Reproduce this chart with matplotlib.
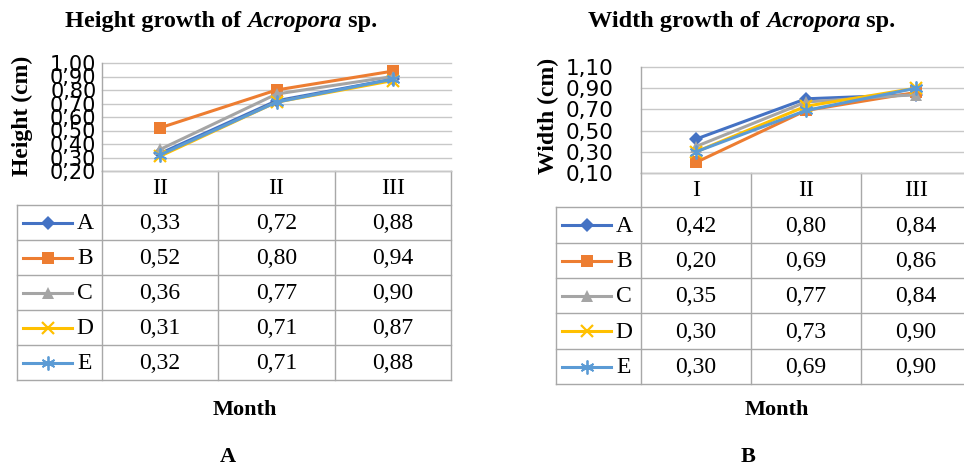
import matplotlib
matplotlib.use("Agg")
import matplotlib.pyplot as plt
from matplotlib.ticker import FuncFormatter

# ---- data ----
series_names = ["A", "B", "C", "D", "E"]
height_months = ["II", "II", "III"]
height_values = {
    "A": [0.33, 0.72, 0.88],
    "B": [0.52, 0.80, 0.94],
    "C": [0.36, 0.77, 0.90],
    "D": [0.31, 0.71, 0.87],
    "E": [0.32, 0.71, 0.88],
}
width_months = ["I", "II", "III"]
width_values = {
    "A": [0.42, 0.80, 0.84],
    "B": [0.20, 0.69, 0.86],
    "C": [0.35, 0.77, 0.84],
    "D": [0.30, 0.73, 0.90],
    "E": [0.30, 0.69, 0.90],
}
height_ticks = [0.2, 0.3, 0.4, 0.5, 0.6, 0.7, 0.8, 0.9, 1.0]
width_ticks = [0.1, 0.3, 0.5, 0.7, 0.9, 1.1]

# ---- styles ----
colors = {"A": "#4472C4", "B": "#ED7D31", "C": "#A5A5A5", "D": "#FFC000", "E": "#5B9BD5"}
markers = {
    "A": dict(marker="D", ms=7, mew=0),
    "B": dict(marker="s", ms=9, mew=0),
    "C": dict(marker="^", ms=9, mew=0),
    "D": dict(marker="x", ms=9, mew=1.6),
    "E": dict(marker=(6, 2, 0), ms=10, mew=1.3),
}
SERIF = "Liberation Serif"
SANS = "DejaVu Sans"
GRID = "#c8c8c8"
TBL = "#a8a8a8"
CELL_SIZE = 17

W, H = 964, 468
fig = plt.figure(figsize=(W / 100, H / 100), dpi=100)

# overlay in pixel coordinates for the data tables and captions
ov = fig.add_axes([0, 0, 1, 1], zorder=0)
ov.set_xlim(0, W)
ov.set_ylim(H, 0)
ov.set_axis_off()


def px_axes(x0, y0, x1, y1):
    return fig.add_axes([x0 / W, 1 - y1 / H, (x1 - x0) / W, (y1 - y0) / H], zorder=2)


comma = FuncFormatter(lambda v, p: f"{v:.2f}".replace(".", ","))


def panel(x0, y0, x1, y1, ticks, months, values, ylim, tick_size, tick_pad,
          leg_left, row_edges, table_right):
    ax = px_axes(x0, y0, x1, y1)
    ax.patch.set_alpha(0)
    for s in ["top", "right", "bottom"]:
        ax.spines[s].set_visible(False)
    ax.spines["left"].set_color(TBL)
    ax.spines["left"].set_linewidth(1.0)
    ax.set_xlim(-0.5, len(months) - 0.5)
    ax.set_ylim(*ylim)
    ax.set_yticks(ticks)
    ax.yaxis.set_major_formatter(comma)
    ax.set_xticks([])
    ax.tick_params(axis="y", length=0, pad=tick_pad, labelsize=tick_size)
    for lab in ax.get_yticklabels():
        lab.set_fontfamily(SANS)
    for t in ticks:
        ax.axhline(t, color=GRID, lw=1.0, zorder=0, clip_on=False)
    xs = list(range(len(months)))
    for name in series_names:
        ax.plot(xs, values[name], color=colors[name], lw=2.2,
                markerfacecolor=colors[name], markeredgecolor=colors[name],
                clip_on=False, zorder=3, **markers[name])

    # data table laid out on the same column grid as the axes
    colw = (x1 - x0) / len(months)
    col_edges = [x0 + i * colw for i in range(len(months) + 1)]
    right = min(table_right, W)
    ov.plot([x0, right], [row_edges[0], row_edges[0]], color=TBL, lw=1.0)
    for yy in row_edges[1:]:
        ov.plot([leg_left, right], [yy, yy], color=TBL, lw=1.0)
    ov.plot([leg_left, leg_left], [row_edges[1], row_edges[-1]], color=TBL, lw=1.0)
    for cx in col_edges[:-1]:
        ov.plot([cx, cx], [row_edges[0], row_edges[-1]], color=TBL, lw=1.0)
    if table_right <= W:
        ov.plot([table_right, table_right], [row_edges[0], row_edges[-1]], color=TBL, lw=1.0)
    hy = (row_edges[0] + row_edges[1]) / 2
    for i, m in enumerate(months):
        ov.text((col_edges[i] + col_edges[i + 1]) / 2, hy, m, ha="center", va="center",
                fontsize=CELL_SIZE, family=SERIF)
    for r, name in enumerate(series_names):
        cy = (row_edges[r + 1] + row_edges[r + 2]) / 2
        kx0, kx1 = leg_left + 6, x0 - 30
        ov.plot([kx0, kx1], [cy, cy], color=colors[name], lw=2.2)
        ov.plot([(kx0 + kx1) / 2], [cy], color=colors[name], ls="none",
                markerfacecolor=colors[name], markeredgecolor=colors[name], **markers[name])
        ov.text(x0 - 17, cy + 1, name, ha="center", va="center", fontsize=CELL_SIZE,
                family=SERIF)
        for i, v in enumerate(values[name]):
            ov.text((col_edges[i] + col_edges[i + 1]) / 2, cy + 1,
                    f"{v:.2f}".replace(".", ","), ha="center", va="center",
                    fontsize=CELL_SIZE, family=SERIF)
    return ax


panel(102, 63, 451, 171, height_ticks, height_months, height_values, (0.2, 1.0),
      15, 4, 17, [171, 205, 240, 275, 310, 345, 380], 451)
panel(641, 67, 971, 173, width_ticks, width_months, width_values, (0.1, 1.1),
      15.5, 20, 556, [173, 207, 243, 278, 313, 349, 384], 971)

renderer = fig.canvas.get_renderer()


def mixed_title(cx, cy, parts):
    """Draw a centred line made of (text, style) pieces."""
    texts = []
    for s, style in parts:
        t = fig.text(0, 0, s, fontsize=17.5, family=SERIF, weight="bold", style=style,
                     va="center", ha="left")
        texts.append(t)
    widths = [t.get_window_extent(renderer).width for t in texts]
    x = cx - sum(widths) / 2
    for t, w in zip(texts, widths):
        t.set_position((x / W, 1 - cy / H))
        x += w


mixed_title(221, 21, [("Height growth of ", "normal"), ("Acropora", "italic"), (" sp.", "normal")])
mixed_title(742, 21, [("Width growth of ", "normal"), ("Acropora", "italic"), (" sp.", "normal")])

fig.text(22 / W, 1 - 116 / H, "Height (cm)", rotation=90, ha="center", va="center",
         fontsize=17, family=SERIF, weight="bold")
fig.text(548 / W, 1 - 116 / H, "Width (cm)", rotation=90, ha="center", va="center",
         fontsize=17, family=SERIF, weight="bold")

for cx in (245, 777):
    fig.text(cx / W, 1 - 410 / H, "Month", ha="center", va="center", fontsize=16,
             family=SERIF, weight="bold")
for cx, lab in [(228, "A"), (748, "B")]:
    fig.text(cx / W, 1 - 457 / H, lab, ha="center", va="center", fontsize=16,
             family=SERIF, weight="bold")

fig.savefig("out.png", dpi=100)
